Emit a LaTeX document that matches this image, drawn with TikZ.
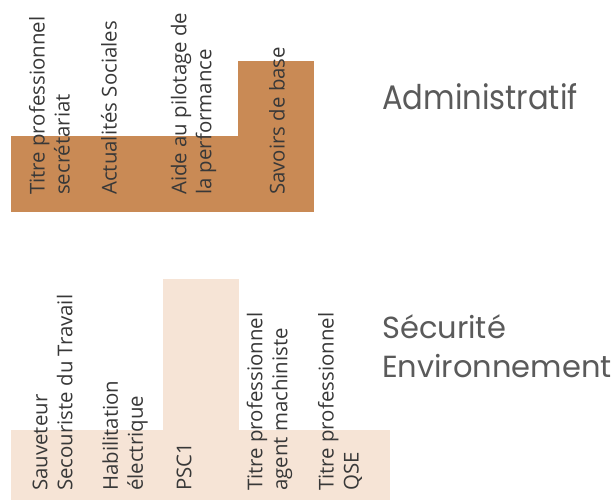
\documentclass[tikz,border=0pt]{standalone}
\usepackage{fontspec}
\setmainfont{Open Sans}
\newfontfamily\groupfont{Poppins}
\definecolor{admin}{HTML}{C98A55}
\definecolor{secu}{HTML}{F6E4D6}
\definecolor{labeltext}{HTML}{383838}
\definecolor{grouptext}{HTML}{5A5A5A}

\begin{document}
\begin{tikzpicture}[x=1pt,y=-1pt,
  course/.style={rotate=90,anchor=west,inner sep=0pt,align=left,
    text=labeltext,font=\fontsize{20.4}{25}\selectfont},
  group/.style={anchor=base west,inner sep=0pt,align=left,text=grouptext}]
  \useasboundingbox (0,0) rectangle (615,500);

  % Administratif
  \fill[admin] (11,136) rectangle (238,212);
  \fill[admin] (238,61) rectangle (314,212);
  \node[course] (secretariat) at (49.5,195) {Titre professionnel\\secrétariat};
  \node[course] (sociales) at (109,195) {Actualités Sociales};
  \node[course] (pilotage) at (193.5,195) {Aide au pilotage de\\la performance};
  \node[course] (savoirs) at (277,195) {Savoirs de base};
  \node[group,xscale=0.9,font=\groupfont\fontsize{34}{40}\selectfont] (admin) at (382,110) {Administratif};

  % Securite Environnement
  \fill[secu] (11,430) rectangle (390,500);
  \fill[secu] (163,279) rectangle (239,430);
  \node[course] (sst) at (52.5,491) {Sauveteur\\Secouriste du Travail};
  \node[course] (habilitation) at (125,491) {Habilitation\\électrique};
  \node[course] (psc) at (184,491) {PSC1};
  \node[course] (machiniste) at (269.5,491) {Titre professionnel\\agent machiniste};
  \node[course] (qse) at (340,491) {Titre professionnel\\QSE};
  \node[group,font=\groupfont\fontsize{30.5}{39}\selectfont] (secu) at (382,377) {Sécurité\\Environnement};
\end{tikzpicture}
\end{document}
